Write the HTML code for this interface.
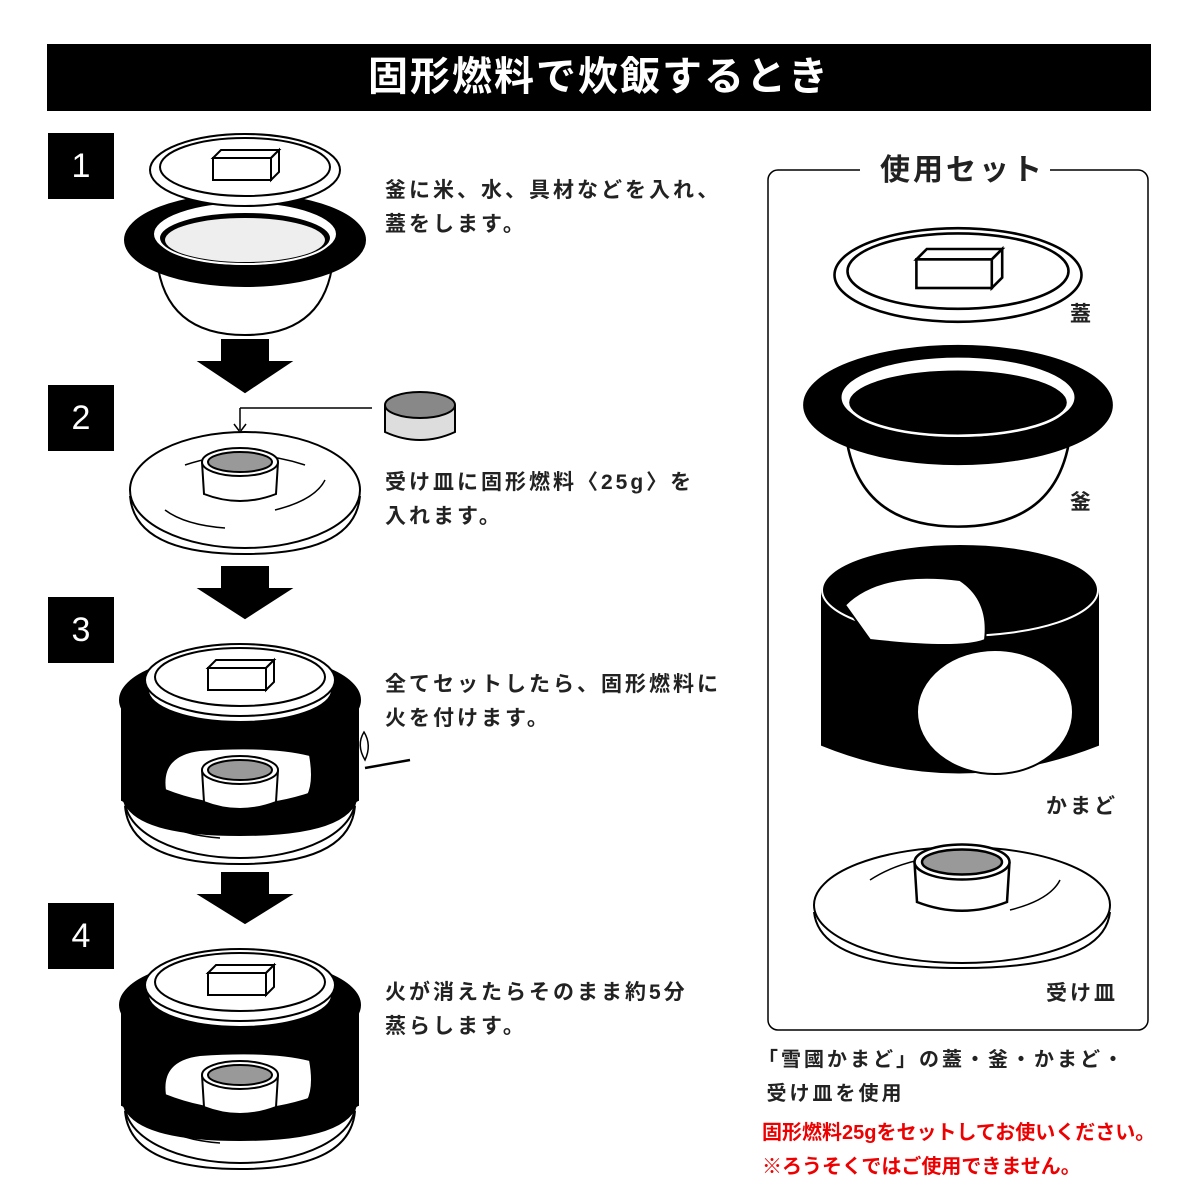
<!DOCTYPE html>
<html><head><meta charset="utf-8"><style>
body{margin:0;background:#fff;}
#c{position:relative;width:1200px;height:1200px;overflow:hidden;font-family:"Liberation Sans","Noto Sans CJK JP",sans-serif;}
.t{position:absolute;font-size:21px;font-weight:bold;letter-spacing:3px;color:#222;white-space:nowrap;line-height:34px;}
.n{position:absolute;left:48px;width:66px;height:66px;background:#000;color:#fff;font-size:34px;text-align:center;line-height:66px;}
svg{position:absolute;left:0;top:0;}
</style></head><body><div id="c">
<svg width="1200" height="1200" viewBox="0 0 1200 1200" fill="none" stroke="#000" stroke-width="2">
<defs>
<g id="lid">
<ellipse cx="0" cy="0" rx="95" ry="36" fill="#fff"/>
<ellipse cx="0" cy="-3" rx="85" ry="29"/>
<polygon points="-32,-12 26,-12 34,-20 -24,-20" fill="#fff"/>
<rect x="-32" y="-12" width="58" height="22" fill="#fff"/>
<polygon points="26,-12 34,-20 34,2 26,10" fill="#fff"/>
</g>
<g id="pot">
<path d="M-88,20 Q-80,95 0,95 Q80,95 88,20" fill="#fff"/>
<ellipse cx="0" cy="0" rx="120" ry="46" fill="#000"/>
<ellipse cx="0" cy="-6" rx="92" ry="32" fill="#fff"/>
<ellipse cx="0" cy="-2" rx="86" ry="26" fill="#000" stroke="#fff"/>
</g>
<g id="tray">
<ellipse cx="0" cy="0" rx="115" ry="58" fill="#fff"/>
<path d="M-115,6 Q-110,64 0,64 Q110,64 115,6"/>
<path d="M-60,-25 Q0,-45 60,-25" stroke-width="1.5"/>
<path d="M30,20 Q70,10 80,-10" stroke-width="1.5"/>
<path d="M-80,20 Q-60,35 -20,38" stroke-width="1.5"/>
</g>
<g id="cup">
<path d="M-38,0 L-36,32 Q0,46 36,32 L38,0" fill="#fff"/>
<ellipse cx="0" cy="0" rx="38" ry="14" fill="#fff"/>
<ellipse cx="0" cy="0" rx="32" ry="10" fill="#999"/>
</g>
<g id="set">
<use href="#tray" transform="translate(0,140)"/>
<path d="M-118,40 L-118,140 Q0,200 118,140 L118,40 Z" fill="#000"/>
<path d="M-75,130 Q-80,95 -40,90 Q30,85 70,95 L75,40 L80,130 Q0,160 -75,130 Z" fill="#fff"/>
<use href="#cup" transform="translate(0,110)"/>
<path d="M-118,40 L-118,140 Q0,200 118,140 L118,40" fill="none"/>
<path d="M-118,130 Q-118,175 0,175 Q118,175 118,130 L118,40 Q60,60 70,95 Q80,150 40,150 L-75,150 Q-90,120 -118,130Z" fill="#000"/>
<ellipse cx="0" cy="40" rx="120" ry="46" fill="#000"/>
<ellipse cx="0" cy="30" rx="92" ry="32" fill="#fff"/>
<use href="#lid" transform="translate(0,20)"/>
</g>
</defs>
<rect x="48" y="45" width="1102" height="65" fill="#000"/>
<use href="#pot" transform="translate(245,240)"/>
<ellipse cx="245" cy="240" rx="80" ry="22" fill="#eee" stroke="none"/>
<use href="#lid" transform="translate(245,170)"/>
<polygon points="222,340 268,340 268,362 290,362 245,392 200,362 222,362" fill="#000"/>
<polygon points="222,567 268,567 268,589 290,589 245,618 200,589 222,589" fill="#000"/>
<polygon points="222,873 268,873 268,895 290,895 245,923 200,895 222,895" fill="#000"/>
<use href="#tray" transform="translate(245,490)"/>
<use href="#cup" transform="translate(240,462)"/>
<path d="M240,408 L372,408 M240,408 L240,430" stroke-width="1.5"/>
<path d="M234,424 L240,432 L246,424" stroke-width="1.5"/>
<path d="M385,405 L385,432 Q420,448 455,432 L455,405" fill="#ddd"/>
<ellipse cx="420" cy="405" rx="35" ry="13" fill="#888"/>
<use href="#set" transform="translate(240,660)"/>
<use href="#set" transform="translate(240,965)"/>
<path d="M365,760 Q356,745 364,732 Q372,745 365,760Z" fill="#fff" stroke-width="1.5"/>
<path d="M365,768 L410,760" stroke-width="2.5"/>
<rect x="768" y="170" width="380" height="860" rx="10" stroke-width="1.5"/>
<rect x="860" y="155" width="190" height="30" fill="#fff" stroke="none"/>
<g transform="translate(958,275) scale(1.3)"><use href="#lid"/></g>
<g transform="translate(958,405) scale(1.28)"><use href="#pot"/></g>
<path d="M822,590 L822,745 Q958,800 1098,745 L1098,590 Z" fill="#000"/>
<ellipse cx="960" cy="590" rx="138" ry="46" fill="#000" stroke="#fff"/>
<path d="M845,605 Q880,570 960,580 Q990,600 985,640 Q960,650 870,640 Z" fill="#fff"/>
<ellipse cx="995" cy="712" rx="78" ry="62" fill="#fff"/>
<ellipse cx="962" cy="905" rx="148" ry="58" fill="#fff"/>
<path d="M814,912 Q820,968 962,968 Q1104,968 1110,912"/>
<path d="M870,880 Q900,860 950,855" stroke-width="1.5"/>
<path d="M1010,910 Q1050,900 1060,880" stroke-width="1.5"/>
<g transform="translate(962,862) scale(1.25)"><use href="#cup"/></g>
</svg>
<div style="position:absolute;left:48px;top:45px;width:1102px;height:65px;color:#fff;font-size:40px;font-weight:bold;text-align:center;line-height:65px;letter-spacing:2px;">固形燃料で炊飯するとき</div>
<div class="n" style="top:133px">1</div>
<div class="n" style="top:385px">2</div>
<div class="n" style="top:597px">3</div>
<div class="n" style="top:903px">4</div>
<div class="t" style="left:385px;top:174px">釜に米、水、具材などを入れ、<br>蓋をします。</div>
<div class="t" style="left:385px;top:466px">受け皿に固形燃料〈25g〉を<br>入れます。</div>
<div class="t" style="left:385px;top:668px">全てセットしたら、固形燃料に<br>火を付けます。</div>
<div class="t" style="left:385px;top:976px">火が消えたらそのまま約5分<br>蒸らします。</div>
<div class="t" style="left:880px;top:154px;font-size:30px">使用セット</div>
<div class="t" style="left:1070px;top:298px">蓋</div>
<div class="t" style="left:1070px;top:486px">釜</div>
<div class="t" style="left:1046px;top:790px">かまど</div>
<div class="t" style="left:1046px;top:977px">受け皿</div>
<div class="t" style="left:758px;top:1043px;font-size:20px">「雪國かまど」の蓋・釜・かまど・<br>&nbsp;受け皿を使用</div>
<div class="t" style="left:762px;top:1116px;font-size:20px;color:#e00;letter-spacing:0">固形燃料25gをセットしてお使いください。<br>※ろうそくではご使用できません。</div>
</div></body></html>
